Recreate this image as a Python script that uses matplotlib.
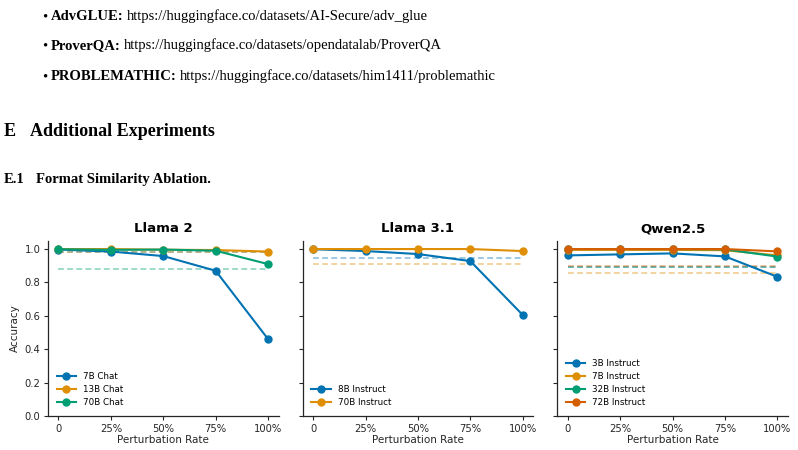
import matplotlib
matplotlib.use("Agg")
import matplotlib.pyplot as plt

rates = ["0", "25%", "50%", "75%", "100%"]

llama2_names = ["7B Chat", "13B Chat", "70B Chat"]
llama2_acc = [
    [0.997, 0.985, 0.958, 0.870, 0.461],
    [1.000, 1.000, 0.996, 0.994, 0.985],
    [0.999, 0.995, 0.997, 0.990, 0.910],
]
llama2_base = [0.985, 0.984, 0.880]

llama31_names = ["8B Instruct", "70B Instruct"]
llama31_acc = [
    [0.999, 0.988, 0.970, 0.928, 0.605],
    [1.000, 1.000, 1.000, 1.000, 0.988],
]
llama31_base = [0.944, 0.908]

qwen_names = ["3B Instruct", "7B Instruct", "32B Instruct", "72B Instruct"]
qwen_acc = [
    [0.962, 0.968, 0.974, 0.956, 0.834],
    [0.995, 0.995, 0.995, 0.993, 0.962],
    [1.000, 1.000, 1.000, 0.998, 0.955],
    [1.000, 1.000, 1.000, 1.000, 0.986],
]
qwen_base = [0.890, 0.856, 0.891, 0.898]

colors = ["#0173b2", "#de8f05", "#029e73", "#d55e00"]

fig = plt.figure(figsize=(7.98, 4.5), dpi=100)
renderer = fig.canvas.get_renderer()

# paper text above the figure
serif = ["Liberation Serif", "DejaVu Serif"]


def fy(y):
    return 1 - y / 450


def bullet(y, head, url):
    fig.text(42 / 798, fy(y), "•", family=serif, fontsize=10.5, va="baseline")
    t = fig.text(51 / 798, fy(y), head, family=serif, fontsize=10.5,
                 weight="bold", va="baseline")
    bb = t.get_window_extent(renderer)
    fig.text((bb.x1 + 3) / 798, fy(y), url, family=serif, fontsize=10.5,
             va="baseline")


bullet(20, "AdvGLUE:", "https://huggingface.co/datasets/AI-Secure/adv_glue")
bullet(49.5, "ProverQA:", "https://huggingface.co/datasets/opendatalab/ProverQA")
bullet(80, "PROBLEMATHIC:", "https://huggingface.co/datasets/him1411/problemathic")

fig.text(4 / 798, fy(136), "E", family=serif, fontsize=13, weight="bold",
         va="baseline")
fig.text(30 / 798, fy(136), "Additional Experiments", family=serif,
         fontsize=13, weight="bold", va="baseline")
fig.text(4 / 798, fy(183), "E.1", family=serif, fontsize=10.5, weight="bold",
         va="baseline")
fig.text(36 / 798, fy(183), "Format Similarity Ablation.", family=serif,
         fontsize=10.5, weight="bold", va="baseline")

# the three panels
panels = [
    ("Llama 2", llama2_names, llama2_acc, llama2_base, 48),
    ("Llama 3.1", llama31_names, llama31_acc, llama31_base, 302.7),
    ("Qwen2.5", qwen_names, qwen_acc, qwen_base, 557.3),
]

x = list(range(len(rates)))
ink = "#262626"

for i, (title, names, accs, bases, left) in enumerate(panels):
    ax = fig.add_axes([left / 798, 34 / 450, 230.5 / 798, 175.3 / 450])
    for j, base in enumerate(bases):
        ax.hlines(base, 0, 4, colors=colors[j], linestyles=(0, (3.5, 2)),
                  linewidth=1.2, alpha=0.45)
    for j, (name, acc) in enumerate(zip(names, accs)):
        ax.plot(x, acc, marker="o", markersize=5, linewidth=1.5,
                color=colors[j], label=name)
    ax.set_xlim(-0.2, 4.2)
    ax.set_ylim(0, 1.05)
    ax.set_xticks(x)
    ax.set_xticklabels(rates)
    ax.set_yticks([0.0, 0.2, 0.4, 0.6, 0.8, 1.0])
    ax.tick_params(labelsize=7.2, colors=ink, length=3, width=0.8, pad=2.5)
    if i == 0:
        ax.set_ylabel("Accuracy", fontsize=7.5, color=ink, labelpad=3)
    else:
        ax.set_yticklabels([])
    ax.set_xlabel("Perturbation Rate", fontsize=7.5, color=ink, labelpad=1)
    ax.set_title(title, fontsize=9.5, weight="bold", pad=6)
    for side in ["top", "right"]:
        ax.spines[side].set_visible(False)
    for side in ["left", "bottom"]:
        ax.spines[side].set_color(ink)
        ax.spines[side].set_linewidth(0.9)
    ax.legend(loc="lower left", fontsize=6.3, frameon=False, handlelength=2.2,
              labelspacing=0.45, borderaxespad=0.6)

fig.savefig("out.png", dpi=100)
